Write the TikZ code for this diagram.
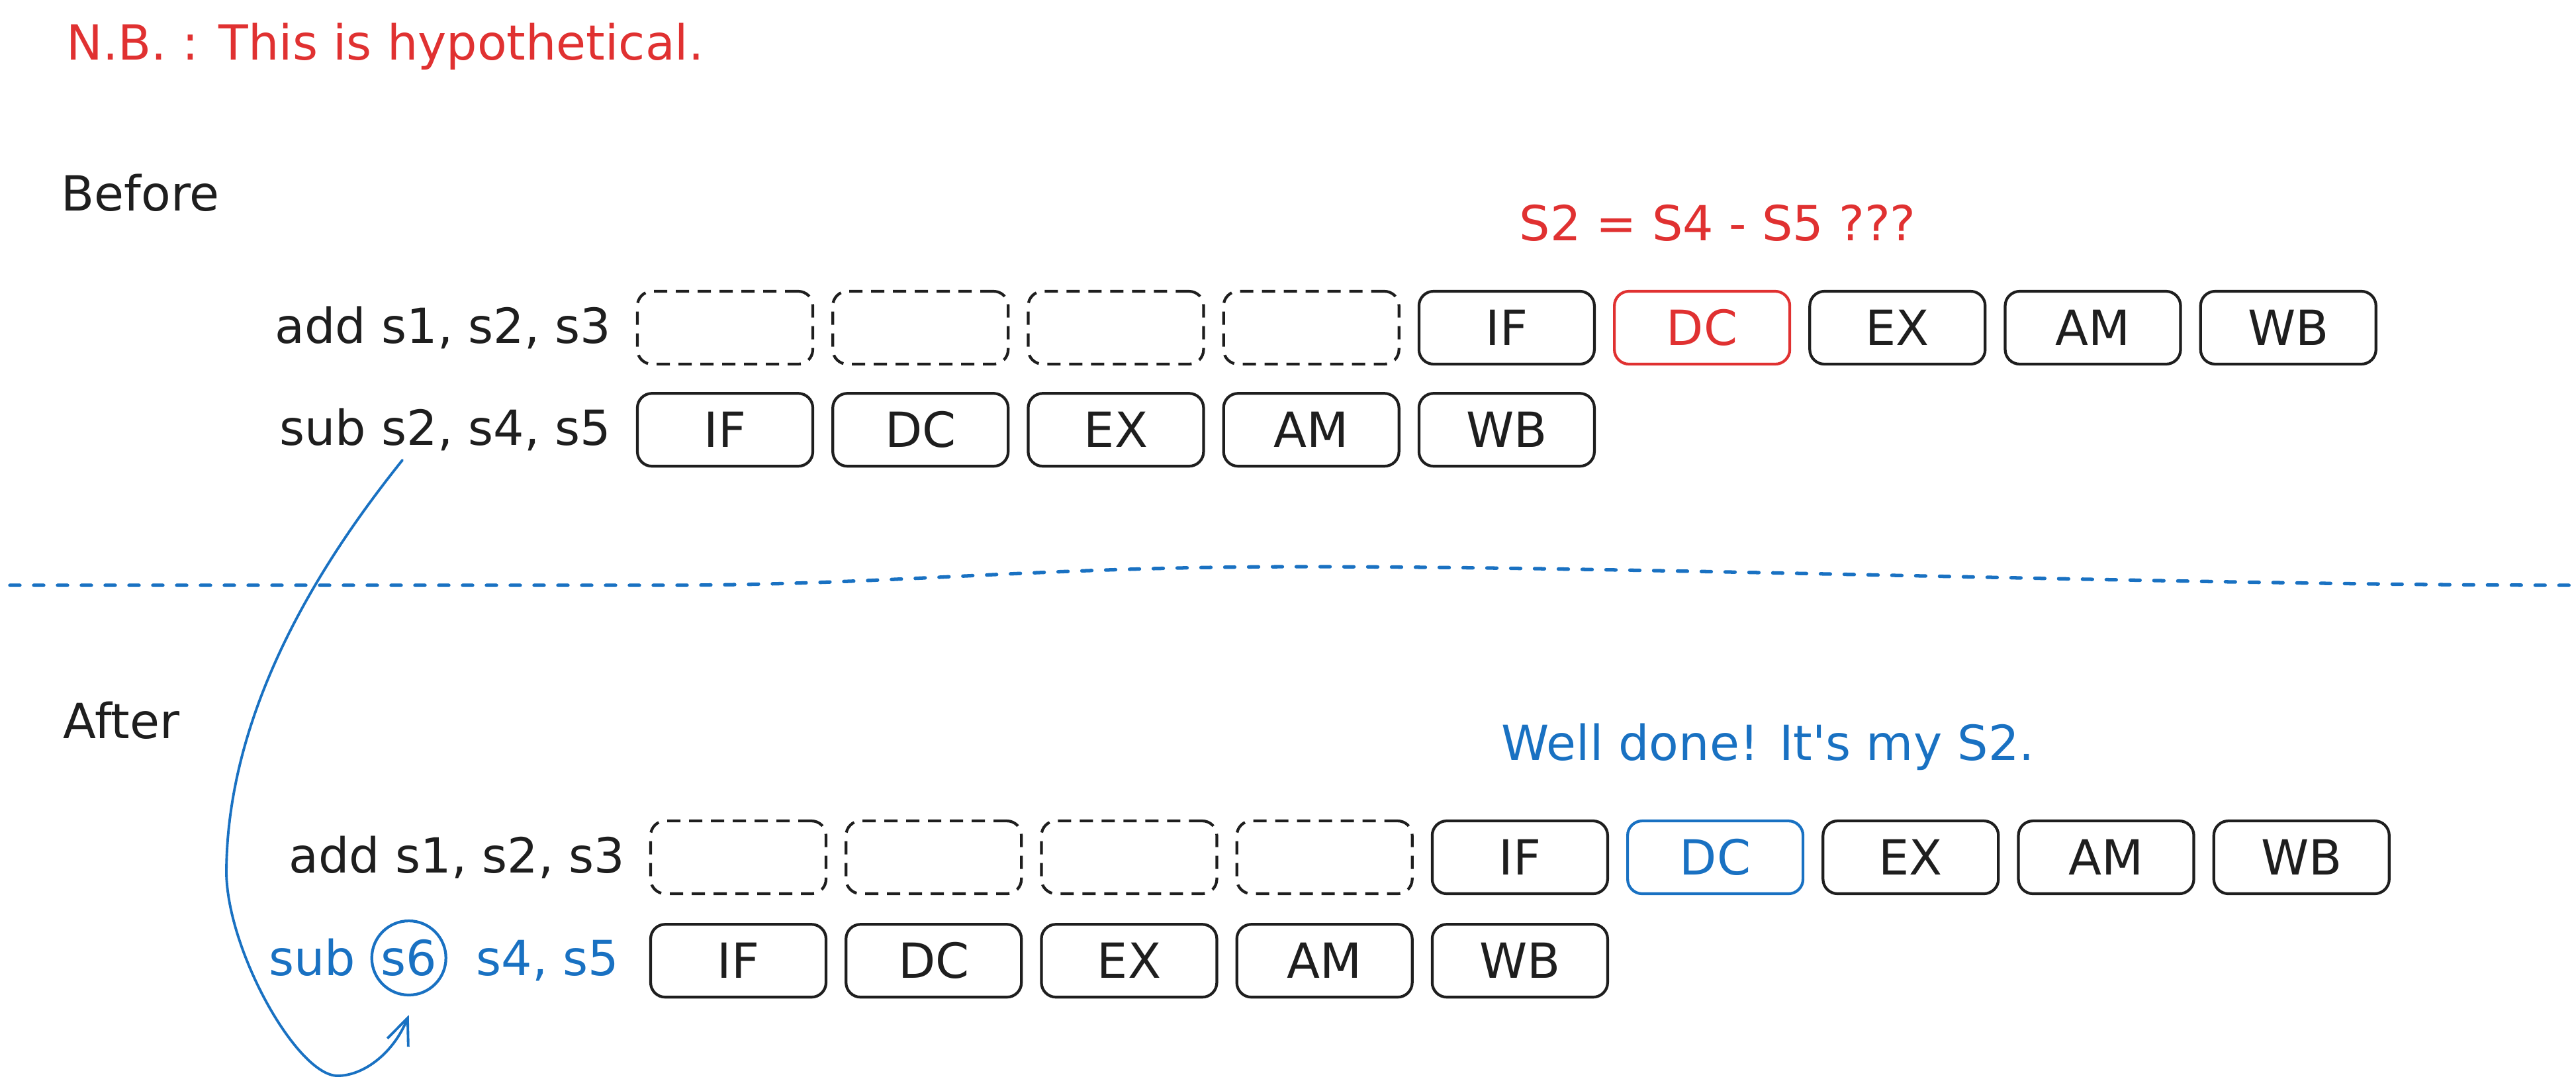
\documentclass[tikz,border=0pt]{standalone}
\usepackage{fontspec}
\setmainfont{DejaVu Sans}
\usetikzlibrary{positioning}
\usetikzlibrary{arrows.meta}
\definecolor{ink}{HTML}{1E1E1E}
\definecolor{exred}{HTML}{E03131}
\definecolor{exblue}{HTML}{1971C2}

\begin{document}
\begin{tikzpicture}[
        txt/.style={inner sep=0pt, text=ink, font=\fontsize{20.8}{25}\selectfont},
        stage/.style={txt, draw=ink, line width=1.2pt, rounded corners=0.22cm,
            minimum width=2.65cm, minimum height=1.1cm},
        slot/.style={stage, dash pattern=on 0.2cm off 0.13cm},
        node distance=0.26cm]
        \useasboundingbox (0,0) rectangle (38.92,-16.44);

        % Notes and headings
        \node[txt, text=exred, anchor=base west] (nb) at (1.00,-0.90) {N.B. : This is hypothetical.};
        \node[txt, anchor=base west] (before) at (0.92,-3.18) {Before};
        \node[txt, text=exred, anchor=base west] (ask) at (22.95,-3.63) {S2 = S4 - S5 ???};
        \node[txt, anchor=base west] (after) at (0.95,-11.15) {After};
        \node[txt, text=exblue, anchor=base west] (ok) at (22.68,-11.48) {Well done! It\textquotesingle s my S2.};

        % Before: add waits on s2
        \node[slot] (a1) at (10.955,-4.95) {};
        \node[slot, right=of a1] (a2) {};
        \node[slot, right=of a2] (a3) {};
        \node[slot, right=of a3] (a4) {};
        \node[stage, right=of a4] (a5) {IF};
        \node[stage, draw=exred, text=exred, right=of a5] (a6) {DC};
        \node[stage, right=of a6] (a7) {EX};
        \node[stage, right=of a7] (a8) {AM};
        \node[stage, right=of a8] (a9) {WB};
        \node[txt, left=0.37cm of a1] (addA) {add s1, s2, s3};

        \node[stage, below=0.40cm of a1] (b1) {IF};
        \node[stage, right=of b1] (b2) {DC};
        \node[stage, right=of b2] (b3) {EX};
        \node[stage, right=of b3] (b4) {AM};
        \node[stage, right=of b4] (b5) {WB};
        \node[txt, left=0.37cm of b1] (subA) {sub s2, s4, s5};

        % Separator
        \draw[exblue, line width=1.5pt, line cap=round, dash pattern=on 0.15cm off 0.21cm]
            (0.15,-8.84) -- (10,-8.84) .. controls (13.5,-8.84) and (15.5,-8.56) .. (19.7,-8.56)
            .. controls (25,-8.56) and (33,-8.84) .. (38.85,-8.84);

        % After: sub writes s6
        \node[slot] (c1) at (11.155,-12.95) {};
        \node[slot, right=of c1] (c2) {};
        \node[slot, right=of c2] (c3) {};
        \node[slot, right=of c3] (c4) {};
        \node[stage, right=of c4] (c5) {IF};
        \node[stage, draw=exblue, text=exblue, right=of c5] (c6) {DC};
        \node[stage, right=of c6] (c7) {EX};
        \node[stage, right=of c7] (c8) {AM};
        \node[stage, right=of c8] (c9) {WB};
        \node[txt, left=0.36cm of c1] (addB) {add s1, s2, s3};

        \node[stage, below=0.42cm of c1] (d1) {IF};
        \node[stage, right=of d1] (d2) {DC};
        \node[stage, right=of d2] (d3) {EX};
        \node[stage, right=of d3] (d4) {AM};
        \node[stage, right=of d4] (d5) {WB};
        \node[txt, text=exblue, left=0.45cm of d1] (s45) {s4, s5};
        \node[txt, text=exblue, circle, draw=exblue, line width=1.2pt, minimum size=1.12cm,
            base left=0.43cm of s45] (s6) {s6};
        \node[txt, text=exblue, base left=0.22cm of s6] (subB) {sub};

        % Rename arrow
        \coordinate (src) at (6.08,-6.95);
        \coordinate[below=0.28cm of s6.south] (tip);
        \draw[exblue, line width=1.1pt, line cap=round, -{Straight Barb[length=0.4cm, width=0.34cm]}]
            (src) .. controls (5.0,-8.3) and (3.42,-10.6) .. (3.42,-13.2)
            .. controls (3.45,-14.4) and (4.5,-16.25) .. (5.1,-16.25)
            .. controls (5.5,-16.25) and (5.95,-15.9) .. (tip);
    \end{tikzpicture}
\end{document}
